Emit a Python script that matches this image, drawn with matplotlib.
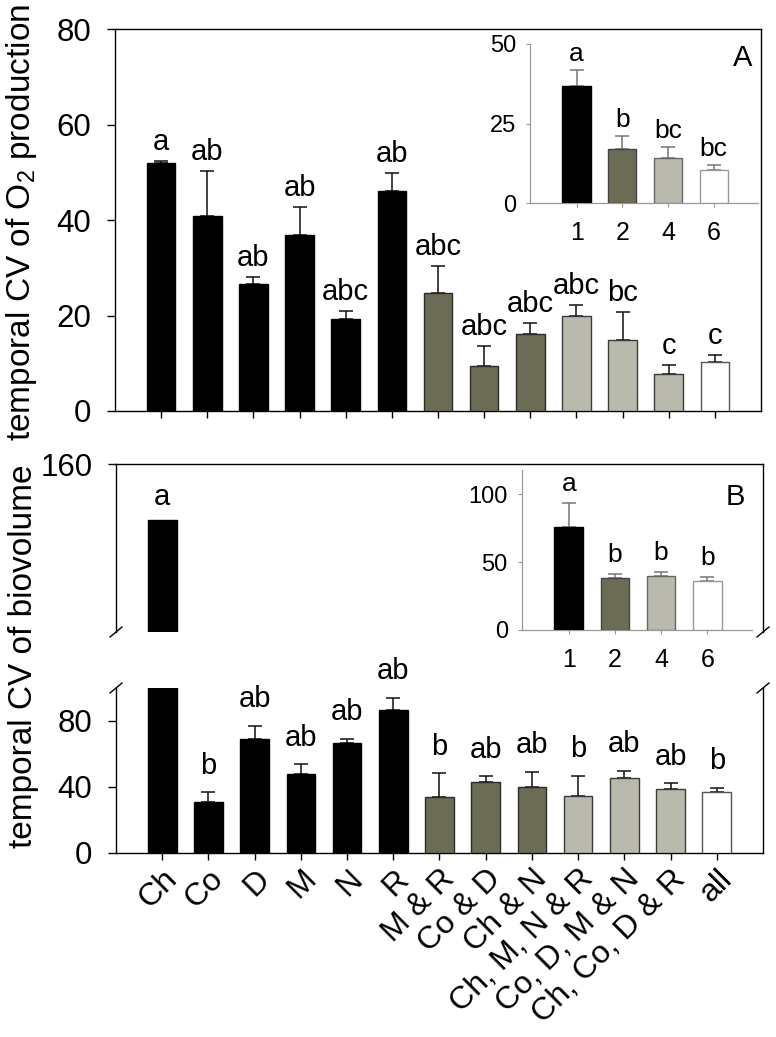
import matplotlib
matplotlib.use('Agg')
import matplotlib.pyplot as plt
from matplotlib.lines import Line2D
import numpy as np

plt.rcParams['font.family'] = ['Liberation Sans', 'DejaVu Sans']
plt.rcParams['mathtext.fontset'] = 'custom'
plt.rcParams['mathtext.rm'] = 'Liberation Sans'
plt.rcParams['mathtext.it'] = 'Liberation Sans:italic'

# ---------------- data ----------------
categories = ['Ch', 'Co', 'D', 'M', 'N', 'R', 'M & R', 'Co & D', 'Ch & N',
              'Ch, M, N & R', 'Co, D, M & N', 'Ch, Co, D & R', 'all']
richness = [1, 1, 1, 1, 1, 1, 2, 2, 2, 4, 4, 4, 6]

o2_mean = [51.9, 40.9, 26.6, 36.9, 19.3, 46.0, 24.8, 9.5, 16.2, 19.8, 14.9, 7.8, 10.3]
o2_err = [0.5, 9.4, 1.4, 5.9, 1.6, 3.9, 5.6, 4.1, 2.2, 2.5, 5.8, 1.9, 1.4]
o2_letters = ['a', 'ab', 'ab', 'ab', 'abc', 'ab', 'abc', 'abc', 'abc', 'abc', 'bc', 'c', 'c']

bio_mean = [140, 31.1, 68.9, 47.9, 66.9, 86.7, 34.1, 43.2, 39.8, 34.7, 45.5, 38.8, 36.8]
bio_err = [0, 5.7, 8.3, 6.0, 2.4, 7.4, 14.2, 3.3, 9.3, 12.0, 4.4, 3.6, 2.6]
bio_letters = ['a', 'b', 'ab', 'ab', 'ab', 'ab', 'b', 'ab', 'ab', 'b', 'ab', 'ab', 'b']

inset_labels = ['1', '2', '4', '6']
inset_richness = [1, 2, 4, 6]
o2_inset_mean = [36.75, 16.9, 14.2, 10.3]
o2_inset_err = [5.15, 4.3, 3.4, 1.6]
o2_inset_letters = ['a', 'b', 'bc', 'bc']
bio_inset_mean = [75.7, 38.6, 39.8, 36.4]
bio_inset_err = [17.7, 2.4, 2.7, 2.7]
bio_inset_letters = ['a', 'b', 'b', 'b']

# ---------------- styles ----------------
fill = {1: '#000000', 2: '#6c6c56', 4: '#b9b9ad', 6: '#ffffff'}
edge_main = {1: '#000000', 2: '#2a2a2a', 4: '#3a3a3a', 6: '#555555'}
edge_inset = {1: '#000000', 2: '#444444', 4: '#666666', 6: '#999999'}

W, H = 776, 1037
fig = plt.figure(figsize=(W / 100, H / 100), dpi=100)


def rect(l, t, r, b):
    return [l / W, 1 - b / H, (r - l) / W, (b - t) / H]


axA = fig.add_axes(rect(115, 29, 761, 411))
axBu = fig.add_axes(rect(116, 464, 763, 632))
axBl = fig.add_axes(rect(116, 688, 763, 853))
insA = fig.add_axes(rect(530, 44, 758, 203.3))
insB = fig.add_axes(rect(521.7, 470, 752, 630))

x = np.arange(len(categories))
xi = np.arange(len(inset_labels))
BW = 0.62


def draw_bars(ax, xs, means, errs, rich, edges, ecolor, capsize, lw=1.0):
    ax.bar(xs, means, width=BW, color=[fill[r] for r in rich],
           edgecolor=[edges[r] for r in rich], linewidth=lw, zorder=3)
    errs = np.asarray(errs, dtype=float)
    m = errs > 0
    ax.errorbar(np.asarray(xs)[m], np.asarray(means)[m],
                yerr=[np.zeros(m.sum()), errs[m]], fmt='none', ecolor=ecolor,
                elinewidth=1.1, capsize=capsize, capthick=1.1, zorder=2)


def draw_letters(ax, xs, means, errs, letters, off, size):
    for xx, mm, ee, lt in zip(xs, means, errs, letters):
        ax.annotate(lt, (xx, mm + ee), xytext=(0, off), textcoords='offset points',
                    ha='center', va='bottom', fontsize=size, annotation_clip=False,
                    zorder=5)


YTICK = dict(direction='out', length=6, width=1, labelsize=22.5, pad=11)

# ---------- Panel A ----------
draw_bars(axA, x, o2_mean, o2_err, richness, edge_main, '#111111', 4.7)
draw_letters(axA, x, o2_mean, o2_err, o2_letters, 3.5, 21)
axA.set_xlim(-1, 13)
axA.set_ylim(0, 80)
axA.set_yticks([0, 20, 40, 60, 80])
axA.set_xticks(x)
axA.set_xticklabels([])
axA.tick_params(axis='y', **YTICK)
axA.tick_params(axis='x', direction='out', length=5, width=1)
for s in axA.spines.values():
    s.set_linewidth(1)

# ---------- Panel B (broken axis) ----------
for ax in (axBu, axBl):
    draw_bars(ax, x, bio_mean, bio_err, richness, edge_main, '#111111', 4.7)
    ax.set_xlim(-1, 13)
    for s in ax.spines.values():
        s.set_linewidth(1)
axBu.set_ylim(100, 160)
axBu.set_yticks([160])
axBu.spines['bottom'].set_visible(False)
axBu.set_xticks([])
axBu.tick_params(axis='y', **YTICK)

axBl.set_ylim(0, 100)
axBl.set_yticks([0, 40, 80])
axBl.spines['top'].set_visible(False)
axBl.set_xticks(x)
axBl.set_xticklabels(categories, rotation=45, ha='right', va='top',
                     rotation_mode='anchor', fontsize=23)
axBl.tick_params(axis='y', **YTICK)
axBl.tick_params(axis='x', direction='out', length=5, width=1, pad=3)

# letters: the first bar sits in the upper section, the rest in the lower one
draw_letters(axBu, x[:1], bio_mean[:1], bio_err[:1], bio_letters[:1], 6.5, 21)
draw_letters(axBl, x[1:], bio_mean[1:], bio_err[1:], bio_letters[1:], 9, 21)

# break marks
dx, dy = 6 / W, 5 / H
for ax, where in ((axBu, 'bottom'), (axBl, 'top')):
    p = ax.get_position()
    yy = p.y0 if where == 'bottom' else p.y1
    for xx in (p.x0, p.x1):
        fig.add_artist(Line2D([xx - dx, xx + dx], [yy - dy, yy + dy],
                              transform=fig.transFigure, color='k', lw=1))

# ---------- insets ----------
for ins, means, errs, letters, ylim, yt, off, lab, labpos in (
        (insA, o2_inset_mean, o2_inset_err, o2_inset_letters, (0, 50), [0, 25, 50], 3, 'A', (0.934, 0.91)),
        (insB, bio_inset_mean, bio_inset_err, bio_inset_letters, (0, 118), [0, 50, 100], 5, 'B', (0.926, 0.83))):
    draw_bars(ins, xi, means, errs, inset_richness, edge_inset, '#777777', 4.7, lw=1.0)
    draw_letters(ins, xi, means, errs, letters, off, 19)
    ins.set_xlim(-1.02, 3.97)
    ins.set_ylim(*ylim)
    ins.set_yticks(yt)
    ins.set_xticks(xi)
    ins.set_xticklabels(inset_labels)
    ins.patch.set_alpha(0)
    ins.spines['top'].set_visible(False)
    ins.spines['right'].set_visible(False)
    for s in ('left', 'bottom'):
        ins.spines[s].set_color('#999999')
        ins.spines[s].set_linewidth(0.9)
    ins.tick_params(axis='y', direction='out', length=3, width=0.8, color='#999999',
                    labelsize=17, pad=7)
    ins.tick_params(axis='x', direction='out', length=3, width=0.8, color='#999999',
                    labelsize=18, pad=10)
    ins.text(labpos[0], labpos[1], lab, transform=ins.transAxes, ha='center',
             va='center', fontsize=21)

# ---------- axis labels ----------
fig.text(22 / W, 1 - 222 / H, 'temporal CV of O$_2$ production', rotation=90,
         ha='center', va='center', fontsize=24)
fig.text(24 / W, 1 - 656 / H, 'temporal CV of biovolume', rotation=90,
         ha='center', va='center', fontsize=24)

fig.savefig('out.png', dpi=100)
